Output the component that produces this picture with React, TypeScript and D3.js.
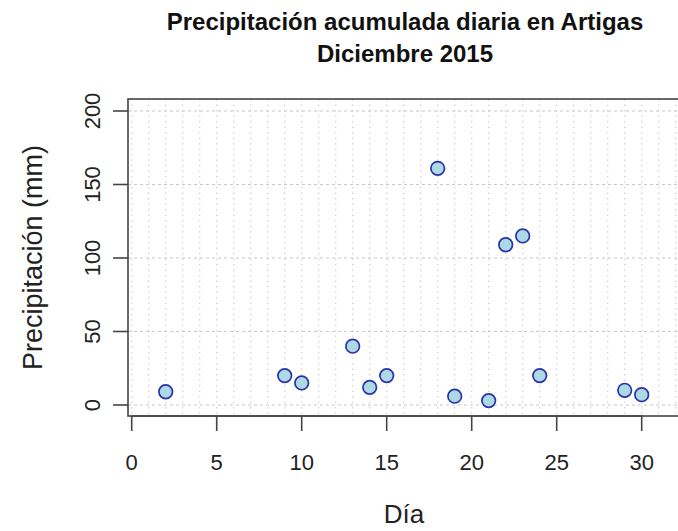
import React from "react";
import * as d3 from "d3";

const days = [2, 9, 10, 13, 14, 15, 18, 19, 21, 22, 23, 24, 29, 30];
const precip = [9, 20, 15, 40, 12, 20, 161, 6, 3, 109, 115, 20, 10, 7];
const xTicks = [0, 5, 10, 15, 20, 25, 30];
const yTicks = [0, 50, 100, 150, 200];
const gridDays = d3.range(0, 33);

export default function App() {
  const W = 678, H = 531;
  const x = d3.scaleLinear().domain([0, 30]).range([131.7, 641.7]);
  const y = d3.scaleLinear().domain([0, 200]).range([405, 111]);
  const box = { l: 128, t: 99, r: 690, b: 416 };
  const font = "Liberation Sans, Arial, sans-serif";
  return (
    <svg width={W} height={H} style={{ position: "absolute", left: 0, top: 0, background: "#fff" }} fontFamily={font}>
      <rect x={0} y={0} width={W} height={H} fill="#fff" />
      <g>
        {gridDays.map((d) => (
          <line key={"v" + d} x1={x(d)} x2={x(d)} y1={box.t} y2={box.b} stroke="#d0d0d0" strokeWidth={1.2} strokeDasharray="1.5 4" />
        ))}
        {yTicks.map((v) => (
          <line key={"h" + v} x1={box.l} x2={box.r} y1={y(v)} y2={y(v)} stroke="#c8c8c8" strokeWidth={1.2} strokeDasharray="3 3" />
        ))}
      </g>
      <rect x={box.l} y={box.t} width={box.r - box.l} height={box.b - box.t} fill="none" stroke="#444" strokeWidth={1.6} />
      <line x1={x(0)} x2={x(30)} y1={box.b} y2={box.b} stroke="#444" strokeWidth={1.6} />
      {xTicks.map((t) => (
        <g key={"xt" + t}>
          <line x1={x(t)} x2={x(t)} y1={box.b} y2={box.b + 15} stroke="#444" strokeWidth={1.6} />
          <text x={x(t)} y={470} textAnchor="middle" fontSize={22} fill="#222">{t}</text>
        </g>
      ))}
      {yTicks.map((t) => (
        <g key={"yt" + t}>
          <line x1={box.l - 15} x2={box.l} y1={y(t)} y2={y(t)} stroke="#444" strokeWidth={1.6} />
          <text transform={`translate(100,${y(t)}) rotate(-90)`} textAnchor="middle" fontSize={22} fill="#222">{t}</text>
        </g>
      ))}
      {days.map((d, i) => (
        <circle key={"p" + i} cx={x(d)} cy={y(precip[i])} r={6.8} fill="#add8e6" stroke="#2a32a8" strokeWidth={1.7} />
      ))}
      <text x={405} y={30} textAnchor="middle" fontSize={24} fontWeight="bold" fill="#111">Precipitación acumulada diaria en Artigas</text>
      <text x={405} y={62} textAnchor="middle" fontSize={24} fontWeight="bold" fill="#111">Diciembre 2015</text>
      <text x={404} y={523} textAnchor="middle" fontSize={26} fill="#222">Día</text>
      <text transform={`translate(42,${(box.t + box.b) / 2}) rotate(-90)`} textAnchor="middle" fontSize={27} fill="#222">Precipitación (mm)</text>
    </svg>
  );
}
